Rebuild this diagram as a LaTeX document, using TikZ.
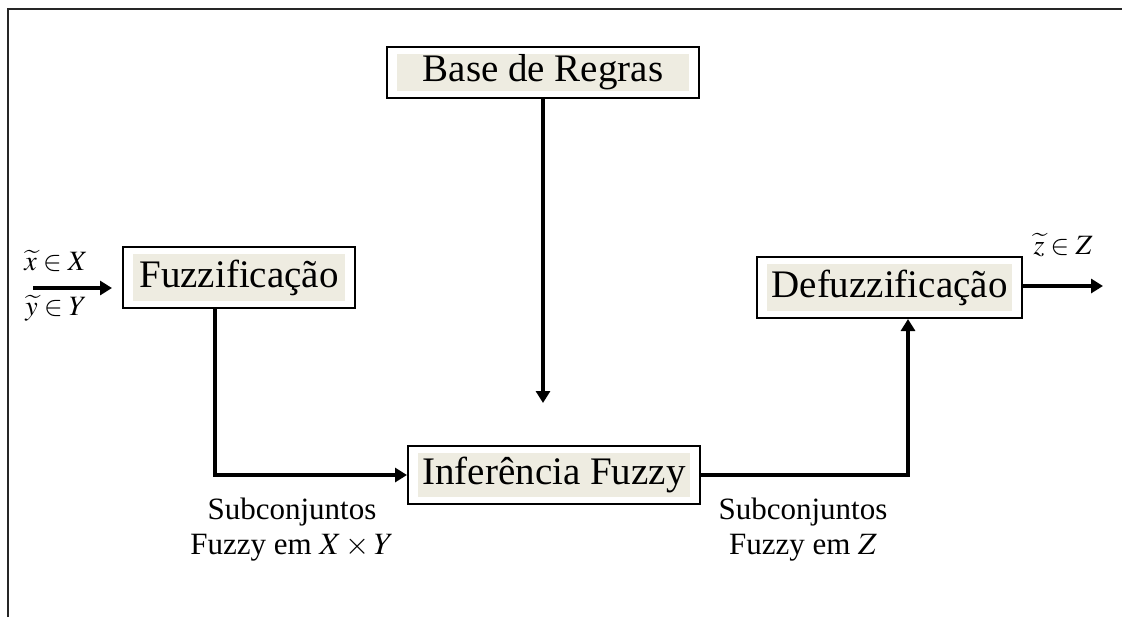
\documentclass[tikz,border=0pt]{standalone}
\usepackage{mathptmx}
\usepackage{fontspec}
\setmainfont{Liberation Serif}
\usetikzlibrary{arrows.meta,positioning}
\definecolor{paleBeige}{RGB}{238,236,225}
\tikzset{
  block/.style={draw, line width=1pt, inner sep=0pt, line join=miter,
    font=\fontsize{19.5}{22}\selectfont,
    path picture={\fill[paleBeige] ([shift={(5pt,3.5pt)}]path picture bounding box.south west) rectangle ([shift={(-5pt,-3.5pt)}]path picture bounding box.north east);}},
  flow/.style={line width=1.6pt, line join=miter, -{Triangle[length=6pt,width=7pt]}},
  sublbl/.style={font=\fontsize{15.5}{17.5}\selectfont, align=center, inner sep=0pt},
  inlbl/.style={font=\fontsize{14}{16}\selectfont, inner sep=0pt}
}
\begin{document}
\begin{tikzpicture}[x=0.5pt,y=-0.5pt]
\useasboundingbox (0,0) rectangle (1122,617);
\draw[line width=1.2pt, black!85] (8,617) -- (8,9) -- (1122,9);

\node[block, minimum width=156pt, minimum height=25.5pt] (rules) at (543,72.5) {Base de Regras};
\node[block, minimum width=116pt, minimum height=30.5pt] (fuzz) at (239,277.5) {Fuzzificação};
\node[block, minimum width=146pt, minimum height=29pt] (infer) at (554,475) {Inferência Fuzzy};
\node[block, minimum width=132.5pt, minimum height=30.5pt] (defuzz) at (889.5,287.5) {Defuzzificação};

\coordinate (xin) at (33,288);
\coordinate (zout) at (1103,286);
\coordinate (rulesEnd) at (543,403);
\coordinate (fuzzDrop) at (215,0);
\coordinate (defuzzRise) at (908,0);

\draw[flow] (xin) -- ([xshift=-5pt]fuzz.west |- xin);
\draw[flow] (defuzz.east |- zout) -- (zout);
\draw[flow] (rules.south) -- (rulesEnd);
\draw[flow] (fuzz.south -| fuzzDrop) |- (infer.west);
\draw[flow] (infer.east) -| (defuzz.south -| defuzzRise);

\node[inlbl] (xlbl) at (56,261) {$\widetilde{x}\in X$};
\node[inlbl] (ylbl) at (56,308) {$\widetilde{y}\in Y$};
\node[inlbl] (zlbl) at (1063,245) {$\widetilde{z}\in Z$};
\node[sublbl] (subXY) at (292,530) {Subconjuntos\\Fuzzy em $X\times Y$};
\node[sublbl] (subZ) at (803,530) {Subconjuntos\\Fuzzy em $Z$};
\end{tikzpicture}
\end{document}
